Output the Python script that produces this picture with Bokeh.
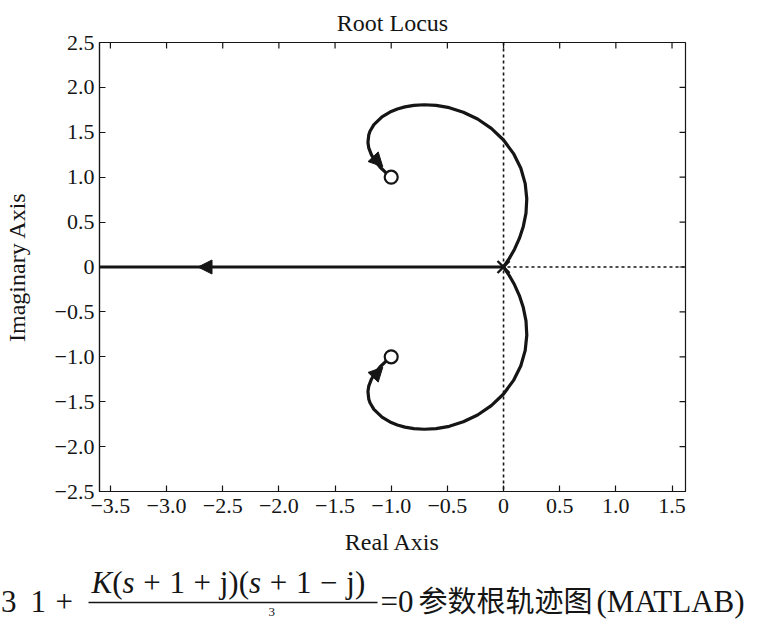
from bokeh.plotting import figure
from bokeh.models import Range1d, FixedTicker, Span, Arrow, NormalHead, ColumnDataSource
from bokeh.layouts import column
from bokeh.embed import file_html
from bokeh.resources import INLINE
from bokeh.core.properties import value

# ---------------- data ----------------
x_ticks = [-3.5, -3.0, -2.5, -2.0, -1.5, -1.0, -0.5, 0.0, 0.5, 1.0, 1.5]
x_tick_labels = ["−3.5", "−3.0", "−2.5", "−2.0", "−1.5", "−1.0", "−0.5", "0", "0.5", "1.0", "1.5"]
y_ticks = [-2.5, -2.0, -1.5, -1.0, -0.5, 0.0, 0.5, 1.0, 1.5, 2.0, 2.5]
y_tick_labels = ["−2.5", "−2.0", "−1.5", "−1.0", "−0.5", "0", "0.5", "1.0", "1.5", "2.0", "2.5"]

# upper complex branch: from the triple pole at 0 to the zero at -1+j
upper_re = [0.0, 0.050, 0.098, 0.141, 0.176, 0.200, 0.207, 0.193, 0.154, 0.089, 0.0,
            -0.109, -0.231, -0.358, -0.483, -0.600, -0.706, -0.799, -0.878, -0.945, -1.0,
            -1.082, -1.154, -1.189, -1.200, -1.207, -1.200, -1.176, -1.135, -1.098, -1.050, -1.0]
upper_im = [0.0, 0.093, 0.198, 0.318, 0.452, 0.600, 0.760, 0.928, 1.099, 1.263, 1.414,
            1.544, 1.648, 1.724, 1.774, 1.800, 1.807, 1.800, 1.783, 1.760, 1.732,
            1.672, 1.586, 1.512, 1.470, 1.387, 1.327, 1.248, 1.166, 1.111, 1.053, 1.0]
# lower complex branch: from 0 to the zero at -1-j
lower_re = [0.0, 0.050, 0.098, 0.141, 0.176, 0.200, 0.207, 0.193, 0.154, 0.089, 0.0,
            -0.109, -0.231, -0.358, -0.483, -0.600, -0.706, -0.799, -0.878, -0.945, -1.0,
            -1.082, -1.154, -1.189, -1.200, -1.207, -1.200, -1.176, -1.135, -1.098, -1.050, -1.0]
lower_im = [0.0, -0.093, -0.198, -0.318, -0.452, -0.600, -0.760, -0.928, -1.099, -1.263, -1.414,
            -1.544, -1.648, -1.724, -1.774, -1.800, -1.807, -1.800, -1.783, -1.760, -1.732,
            -1.672, -1.586, -1.512, -1.470, -1.387, -1.327, -1.248, -1.166, -1.111, -1.053, -1.0]
# real-axis branch: from 0 towards -infinity
real_re = [0.0, -4.0]
real_im = [0.0, 0.0]

pole_re = [0.0]
pole_im = [0.0]
zero_re = [-1.0, -1.0]
zero_im = [1.0, -1.0]

# direction arrows (start -> tip)
arrow_x0 = [-1.17, -1.17, -2.50]
arrow_y0 = [1.24, -1.24, 0.0]
arrow_x1 = [-1.075, -1.075, -2.72]
arrow_y1 = [1.115, -1.115, 0.0]

title_text = "Root Locus"
xlabel_text = "Real Axis"
ylabel_text = "Imaginary Axis"

# caption under the figure
cap_numerator = ["K", "(", "s", "+", "1", "+", "j", ")", "(", "s", "+", "1", "−", "j", ")"]
cap_prefix = ["3", "1", "+"]
cap_equals = "=0"
cap_cjk = "参数根轨迹图"
cap_tail = "(MATLAB)"
cap_denominator_exp = "3"

# ---------------- styling ----------------
SERIF = "Liberation Serif"
INK = "#151515"
W = 770
H_TOP, H_CAP = 560, 60
FL, FR, FT, FB = 93, 685, 40, 491          # frame edges in pixels
XR = (-3.597, 1.62)
YR = (-2.5, 2.5)

p = figure(width=W, height=H_TOP,
           x_range=Range1d(*XR), y_range=Range1d(*YR),
           output_backend="svg", toolbar_location=None,
           min_border_left=FL, min_border_right=W - FR, min_border_top=FT, min_border_bottom=H_TOP - FB,
           title=title_text, x_axis_label=xlabel_text, y_axis_label=ylabel_text)
p.frame_align = False
p.background_fill_color = "white"
p.border_fill_color = "white"
p.grid.visible = False
p.outline_line_color = INK
p.outline_line_width = 1.2

p.title.align = "center"
p.title.text_font = SERIF
p.title.text_font_size = "24px"
p.title.text_font_style = "normal"
p.title.text_color = INK
p.title.standoff = 14

def style_axis(ax, ticks, labels):
    ax.ticker = FixedTicker(ticks=ticks)
    ax.major_tick_in = 6
    ax.major_tick_out = 0
    ax.minor_tick_line_color = None
    ax.axis_line_color = INK
    ax.axis_line_width = 1.2
    ax.major_tick_line_color = INK
    ax.major_tick_line_width = 1.2
    ax.major_label_overrides = dict(zip(ticks, labels))
    ax.major_label_text_font = SERIF
    ax.major_label_text_font_size = "22px"
    ax.major_label_text_color = INK
    ax.axis_label_text_font = SERIF
    ax.axis_label_text_font_size = "24px"
    ax.axis_label_text_font_style = "normal"
    ax.axis_label_text_color = INK

style_axis(p.xaxis[0], x_ticks, x_tick_labels)
p.xaxis[0].major_label_standoff = 7
p.xaxis[0].axis_label_standoff = 13
style_axis(p.yaxis[0], y_ticks, y_tick_labels)
p.yaxis[0].major_label_standoff = 5
p.yaxis[0].axis_label_standoff = 22

# inward ticks on the top and right edges (box on)
sx = (FR - FL) / (XR[1] - XR[0])
sy = (FB - FT) / (YR[1] - YR[0])
tick_len = 6
p.segment(x0=x_ticks, y0=[YR[1]] * len(x_ticks), x1=x_ticks, y1=[YR[1] - tick_len / sy] * len(x_ticks),
          line_color=INK, line_width=1.2)
p.segment(x0=[XR[1]] * len(y_ticks), y0=y_ticks, x1=[XR[1] - tick_len / sx] * len(y_ticks), y1=y_ticks,
          line_color=INK, line_width=1.2)

# dotted axes through the origin
p.add_layout(Span(location=0, dimension="height", line_color=INK, line_width=1.6,
                  line_dash="3 3", level="underlay"))
p.add_layout(Span(location=0, dimension="width", line_color=INK, line_width=1.6,
                  line_dash="3 3", level="underlay"))

# locus branches
p.line(real_re, real_im, line_width=3.2, line_color=INK)
p.line(upper_re, upper_im, line_width=3.2, line_color=INK, line_join="round", line_cap="round")
p.line(lower_re, lower_im, line_width=3.2, line_color=INK, line_join="round", line_cap="round")

# poles and zeros
p.scatter(pole_re, pole_im, marker="x", size=17, line_width=2.4, line_color=INK)
p.scatter(zero_re, zero_im, marker="circle", size=13, line_width=2.2, line_color=INK, fill_color="white")

# arrows
asrc = ColumnDataSource(dict(x0=arrow_x0, y0=arrow_y0, x1=arrow_x1, y1=arrow_y1))
p.add_layout(Arrow(source=asrc, x_start="x0", y_start="y0", x_end="x1", y_end="y1",
                   line_alpha=0.0,
                   end=NormalHead(size=14, fill_color=INK, line_color=INK, line_width=1)))

# ---------------- caption strip (pixel coordinates, y grows downward) ----------------
c = figure(width=W, height=H_CAP, x_range=Range1d(0, W), y_range=Range1d(H_TOP + H_CAP, H_TOP),
           output_backend="svg", toolbar_location=None,
           x_axis_location=None, y_axis_location=None,
           min_border_left=0, min_border_right=0, min_border_top=0, min_border_bottom=0)
c.frame_align = False
c.grid.visible = False
c.outline_line_color = None
c.background_fill_color = "white"
c.border_fill_color = "white"

FS = 31
def cap_text(xs, ys, texts, italic=False, align="left", baseline="middle", font=SERIF, size=FS):
    c.text(x=xs, y=ys, text=texts, text_align=align, text_baseline=baseline,
           text_font=value(font), text_font_size=f"{size}px",
           text_font_style="italic" if italic else "normal", text_color=INK)

widths = {"K": .667, "(": .333, ")": .333, "s": .389, "+": .564, "−": .564, "1": .5, "j": .278}
italic_set = {"K", "s"}
ops = {"+", "−"}
gap = 0.28 * FS
xpos = 91.0
it_x, it_t, up_x, up_t = [], [], [], []
for t in cap_numerator:
    if t in ops:
        xpos += gap
    if t in italic_set:
        it_x.append(xpos); it_t.append(t)
    else:
        up_x.append(xpos); up_t.append(t)
    xpos += widths[t] * FS
    if t in ops:
        xpos += gap
num_y = 582
cap_text(it_x, [num_y] * len(it_x), it_t, italic=True)
cap_text(up_x, [num_y] * len(up_x), up_t)
c.line([88, 377], [602, 602], line_width=1.6, line_color=INK)

main_y = 601
cap_text([16], [main_y], [cap_prefix[0]], align="right")
cap_text([30, 55], [main_y, main_y], cap_prefix[1:])
cap_text([380], [main_y], [cap_equals])
cap_text([418], [598], [cap_cjk], font="Noto Sans CJK SC", size=29)
cap_text([596], [main_y], [cap_tail])
cap_text([268], [607], [cap_denominator_exp], baseline="top", size=13)

layout = column(p, c, spacing=0)
open("out.html", "w").write(file_html(layout, INLINE))
